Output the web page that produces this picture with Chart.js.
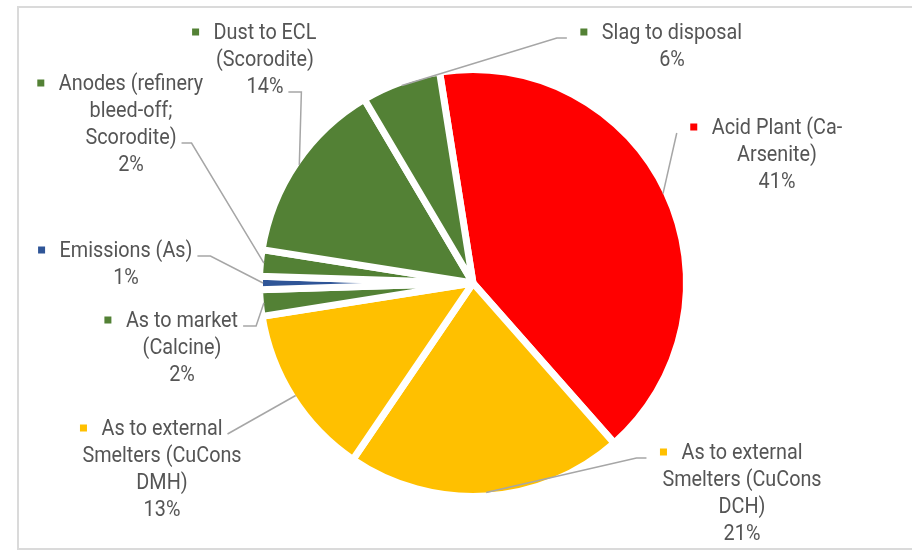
<!DOCTYPE html>
<html>
<head>
<meta charset="utf-8">
<script src="https://cdn.jsdelivr.net/npm/chart.js@4/dist/chart.umd.min.js"></script>
<style>
  html, body { margin: 0; padding: 0; background: #fff; overflow: hidden; }
  #wrap { position: relative; width: 912px; height: 550px; }
  #frame { position: absolute; left: 17px; top: 6px; width: 930px; height: 540px; border: 2px solid #dadada; }
  #pie { position: absolute; left: 0; top: 0; }
</style>
</head>
<body>
<div id="wrap">
  <div id="frame"></div>
  <canvas id="pie" width="912" height="550"></canvas>
</div>
<script>
// slices, clockwise from the top
const categories = [
  ["Acid Plant (Ca-", "Arsenite)"],
  ["As to external", "Smelters (CuCons", "DCH)"],
  ["As to external", "Smelters (CuCons", "DMH)"],
  ["As to market", "(Calcine)"],
  ["Emissions (As)"],
  ["Anodes (refinery", "bleed-off;", "Scorodite)"],
  ["Dust to ECL", "(Scorodite)"],
  ["Slag to disposal"]
];
const shares = [41, 21, 13, 2, 1, 2, 14, 6];
const sliceColors = ["#ff0000", "#ffc000", "#ffc000", "#538135", "#2f5597", "#538135", "#538135", "#538135"];

// label placement: block centre x, first line centre y, where the leader leaves it
const labelLayout = [
  { x: 777, y: 127, side: "left", line: 0, elbow: 0 },
  { x: 742, y: 452, side: "left", line: 0, elbow: 10 },
  { x: 162, y: 428, side: "right", line: 0, elbow: 0 },
  { x: 182, y: 320, side: "right", line: 0, elbow: 13 },
  { x: 126, y: 250, side: "right", line: 0, elbow: 13 },
  { x: 131, y: 83, side: "right", line: 2, elbow: 10 },
  { x: 265, y: 32, side: "right", line: 2, elbow: 13 },
  { x: 672, y: 32, side: "left", line: 0, elbow: 10 }
];

const BORDER = 7;
const LINE_H = 27;
const FONT = "22px Roboto";
const SQUEEZE = 0.9; // text in the original is a bit narrow

const pieLabels = {
  id: "pieLabels",
  afterDatasetsDraw(chart) {
    const ctx = chart.ctx;
    const meta = chart.getDatasetMeta(0);
    ctx.save();
    ctx.font = FONT;
    ctx.textAlign = "center";
    ctx.textBaseline = "middle";

    const textW = t => ctx.measureText(t).width * SQUEEZE;

    meta.data.forEach((arc, i) => {
      const p = arc.getProps(["x", "y", "startAngle", "endAngle", "outerRadius"], true);
      const mid = (p.startAngle + p.endAngle) / 2;
      const r = p.outerRadius - BORDER / 2;
      const ex = p.x + Math.cos(mid) * r;
      const ey = p.y + Math.sin(mid) * r;

      const pos = labelLayout[i];
      const lines = categories[i].concat([shares[i] + "%"]);

      // text
      ctx.fillStyle = "#555555";
      lines.forEach((t, k) => {
        ctx.save();
        ctx.translate(pos.x, pos.y + 1 + k * LINE_H);
        ctx.scale(SQUEEZE, 1);
        ctx.fillText(t, 0, 0);
        ctx.restore();
      });

      // legend key in front of first line
      const mx = pos.x - textW(lines[0]) / 2 - 18;
      ctx.fillStyle = sliceColors[i];
      ctx.fillRect(mx - 3.5, pos.y - 3.5, 7, 7);

      // leader line
      let sx, bx;
      const sy = pos.y + pos.line * LINE_H + 6;
      if (pos.side === "left") {
        sx = mx - 17;
        bx = sx - pos.elbow;
      } else {
        sx = pos.x + textW(lines[pos.line]) / 2 + 5;
        bx = sx + pos.elbow;
      }
      ctx.strokeStyle = "#a6a6a6";
      ctx.lineWidth = 1.5;
      ctx.beginPath();
      ctx.moveTo(sx, sy);
      ctx.lineTo(bx, sy);
      ctx.lineTo(ex, ey);
      ctx.stroke();
    });
    ctx.restore();
  }
};

new Chart(document.getElementById("pie"), {
  type: "pie",
  data: {
    labels: categories.map(c => c.join(" ")),
    datasets: [{
      data: shares,
      backgroundColor: sliceColors,
      borderColor: "#ffffff",
      borderWidth: BORDER
    }]
  },
  options: {
    responsive: false,
    animation: false,
    devicePixelRatio: 1,
    rotation: -9,
    radius: 210 + BORDER / 2,
    layout: { padding: { left: 34, right: 0, top: 16, bottom: 0 } },
    plugins: {
      legend: { display: false },
      tooltip: { enabled: false }
    }
  },
  plugins: [pieLabels]
});
</script>
</body>
</html>
